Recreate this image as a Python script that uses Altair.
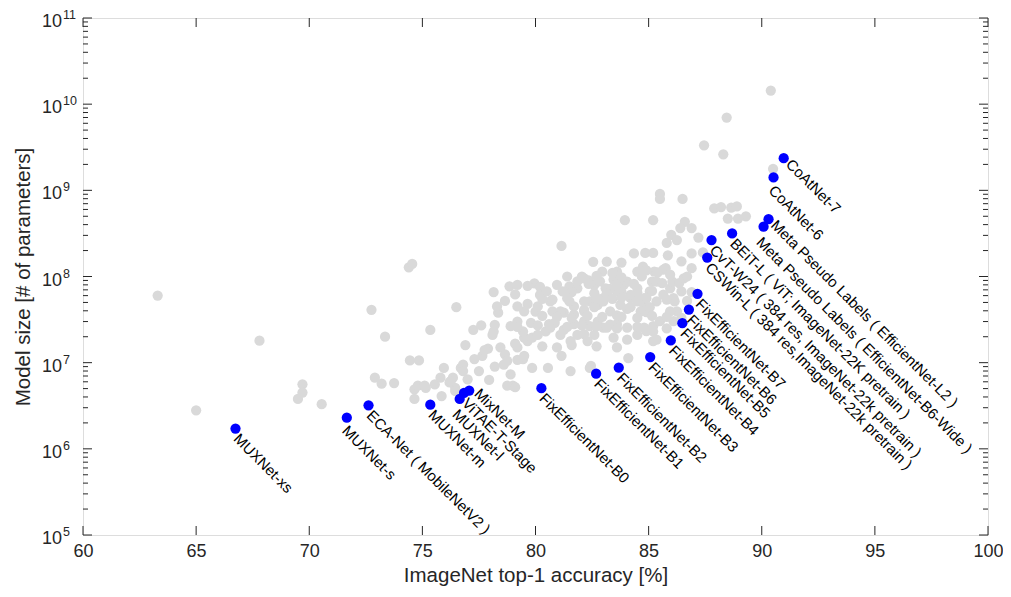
import altair as alt
import pandas as pd

# ---------------- data ----------------
gray_acc = [
    63.3, 65.0, 67.8, 69.7, 69.7, 69.5, 70.55, 72.75, 73.35, 72.9, 73.2, 73.75,
    74.4, 74.55, 74.45, 74.85, 75.35, 76.5, 74.65, 74.8, 74.65, 75.15, 75.55, 75.8,
    75.95, 76.2, 76.35, 76.45, 75.85, 76.7, 76.8, 77.0, 77.95, 77.65, 77.9, 78.1,
    78.45, 78.65, 78.9, 79.0, 79.1, 79.45, 79.85, 79.5, 76.25, 76.45, 75.1, 76.8,
    78.75, 79.1, 80.55, 81.55, 82.4,
    78.15, 78.85, 79.1, 79.95, 80.2, 80.95, 81.5, 81.85, 82.35, 82.6, 81.15, 82.55,
    77.25, 77.6, 78.15, 78.2, 78.65, 78.35, 78.9, 79.2, 79.45, 79.8, 80.0, 80.1,
    80.3, 80.2, 79.65, 79.5, 79.65, 79.85, 80.45, 80.6, 80.85, 81.25, 81.7, 81.85,
    82.4, 82.6, 80.75, 81.25, 81.7, 82.15, 81.5, 82.4, 82.75, 81.6, 81.15, 77.75,
    78.75, 79.2, 79.5, 80.1, 80.65, 81.1, 81.55, 81.1, 81.7, 80.65,
    82.15, 83.0, 82.75, 83.3, 83.6, 84.05, 84.2, 84.5, 84.8, 84.9, 85.35, 85.65,
    86.1, 82.15, 82.3, 83.0, 83.45, 84.05, 84.05, 84.8, 85.2, 85.35, 86.1, 86.25,
    82.45, 84.1, 84.9,
    81.55, 81.85, 82.15, 82.35, 82.6, 82.85, 83.1, 83.45, 83.6, 83.9, 84.2, 84.5,
    84.8, 85.05, 85.95, 86.15, 82.15, 82.6, 83.0, 83.3, 83.75, 84.2, 84.65, 85.05,
    85.5, 85.95, 82.15, 83.15, 83.6, 84.5, 85.2, 85.2,
    85.5, 85.5, 86.5, 83.95, 85.2, 87.9, 88.2, 88.65, 88.9, 89.3, 88.5, 88.95,
    86.6, 86.4, 86.9, 86.0, 86.25, 85.8, 87.2, 84.35, 84.85, 85.2, 85.85, 86.45,
    86.9, 87.4, 84.75, 85.75, 83.6, 84.5, 86.9, 85.15, 85.35, 85.6, 86.05, 86.35,
    84.05, 84.35, 83.3, 83.6, 85.65, 85.25, 85.95, 86.55,
    90.4, 88.45, 87.45, 88.3, 90.5,
    # denser core of the cloud
    82.95, 83.4, 84.9, 85.4, 81.4, 82.05, 82.7, 83.8, 84.7, 86.7,
    80.5, 81.2, 81.6, 83.15, 83.8, 84.5, 85.15, 86.45, 86.9,
    80.75, 81.4, 82.7, 83.4, 83.8, 84.9, 85.8, 86.7,
    80.3, 80.95, 81.6, 82.3, 82.95, 83.8, 84.5, 85.15, 85.8, 86.45,
    79.2, 80.1, 81.4, 82.05, 82.7, 83.6, 84.5, 85.8,
    79.2, 80.3, 80.95, 82.7, 83.6, 78.3, 79.2, 79.2, 79.65, 83.15, 83.8,
    76.9, 77.3, 78.2, 77.5, 78.6,
]
gray_params_m = [
    60, 2.8, 18, 5.6, 4.5, 3.8, 3.3, 41, 20, 6.7, 5.7, 5.8,
    128, 140, 10.6, 10.6, 24, 44, 4.9, 5.4, 3.8, 5.1, 5.6, 6.7,
    8.7, 5.9, 6.7, 5.1, 4.1, 8.7, 9.5, 6.4, 6.3, 12, 14.6, 21,
    15, 12.5, 7.3, 5.4, 16.6, 11, 8.7, 19.5, 6.1, 4.7, 5.4, 8.0,
    5.4, 5.2, 8.7, 8.0, 8.7,
    66, 77, 62, 83, 76, 80, 77, 73, 90, 80, 226, 148,
    24, 27, 23, 27.5, 52, 38, 26.5, 30, 23, 29, 39, 45,
    55, 61, 48, 39.5, 17.8, 19.5, 23, 28, 29, 24, 28, 21,
    26.5, 21, 39.5, 38, 45, 39.5, 51.5, 51.5, 47, 16, 12, 14,
    10.5, 10.8, 12, 21, 25.5, 21, 17.8, 39.5, 36, 51.5,
    41, 56, 30, 27.7, 35.5, 42, 56, 51.5, 47, 38.5, 51.5, 61.5,
    56, 21.5, 17.8, 25.5, 19.5, 25.5, 18.5, 25.5, 26.5, 18.5, 30.3, 39.5,
    9.2, 11.3, 23.2,
    73, 88, 95, 82, 64, 88, 73, 92, 67, 80, 61, 73,
    56, 67, 73, 51.5, 51.5, 44, 51.5, 39.5, 47, 44, 39.5, 44,
    30.3, 39.5, 30.3, 25.5, 28, 21, 23, 17.8,
    908, 794, 794, 451, 451, 616, 640, 630, 650, 500, 470, 470,
    431, 365, 365, 305, 265, 245, 283, 185, 188, 188, 176, 150,
    185, 190, 130, 125, 114, 114, 125, 87, 87, 84, 87, 84,
    87, 82, 72, 82, 120, 114, 105, 95,
    14400, 7000, 3330, 2620, 1780,
    114, 110, 118, 112, 100, 100, 102, 98, 100, 100,
    67, 67, 66, 64, 66, 65, 68, 67, 66,
    54, 56, 56, 55, 57, 56, 54, 52,
    35, 34, 33, 35, 34, 34, 33, 35, 34, 33,
    26, 27, 26, 27, 26.5, 25, 26, 25,
    15, 15.5, 15, 15.5, 15, 45, 45, 80, 78, 149, 145,
    16, 11, 9, 8, 9.5,
]

blue_names = [
    "MUXNet-xs", "MUXNet-s", "ECA-Net ( MobileNetV2 )", "MUXNet-m", "MUXNet-l",
    "ViTAE-T-Stage", "MixNet-M", "FixEfficientNet-B0", "FixEfficientNet-B1",
    "FixEfficientNet-B2", "FixEfficientNet-B3", "FixEfficientNet-B4",
    "FixEfficientNet-B5", "FixEfficientNet-B6", "FixEfficientNet-B7",
    "CSWin-L ( 384 res,ImageNet-22k pretrain )",
    "CvT-W24 ( 384 res, ImageNet-22k pretrain )",
    "BEiT-L ( ViT; ImageNet-22K pretrain )",
    "Meta Pseudo Labels ( EfficientNet-B6-Wide )",
    "Meta Pseudo Labels ( EfficientNet-L2 )",
    "CoAtNet-6", "CoAtNet-7",
]
blue_acc = [66.74, 71.66, 72.62, 75.35, 76.65, 76.84, 77.07, 80.26, 82.68, 83.68,
            85.07, 85.98, 86.49, 86.78, 87.16, 87.59, 87.78, 88.69, 90.08, 90.3,
            90.52, 90.97]
blue_params_m = [1.72, 2.3, 3.2, 3.25, 3.8, 4.45, 4.75, 5.06, 7.46, 8.75,
                 11.6, 18.1, 28.7, 41.3, 63, 166, 265, 316, 378, 463,
                 1413, 2361]

x_ticks = [60, 65, 70, 75, 80, 85, 90, 95, 100]
y_exponents = [5, 6, 7, 8, 9, 10, 11]
y_major = [10.0 ** e for e in y_exponents]
y_minor = [m * 10.0 ** e for e in y_exponents[:-1] for m in range(2, 10)]

# label groups that are set slightly off the common line (style only)
label_shift_groups = [
    (-5, ["MixNet-M"]),
    (-1, ["Meta Pseudo Labels ( EfficientNet-L2 )", "CoAtNet-7"]),
    (9, ["CoAtNet-6", "MUXNet-s"]),
    (12.5, ["MUXNet-l", "Meta Pseudo Labels ( EfficientNet-B6-Wide )"]),
]

# ---------------- chart ----------------
W, H = 905, 517
AXC = "#262626"
FONT = "Liberation Sans"

gray_df = pd.DataFrame({"acc": gray_acc, "params": [v * 1e6 for v in gray_params_m]})
blue_df = pd.DataFrame({"acc": blue_acc, "params": [v * 1e6 for v in blue_params_m],
                        "name": blue_names})

xs = alt.Scale(domain=[60, 100], nice=False, zero=False)
ys = alt.Scale(type="log", domain=[1e5, 1e11], nice=False)

xaxis = alt.Axis(values=x_ticks, ticks=False, tickSize=0, domain=False, grid=False,
                 labelFontSize=18, labelFont=FONT, labelColor=AXC, labelPadding=7,
                 labelFlush=False, labelOverlap=False,
                 title="ImageNet top-1 accuracy [%]", titleFont=FONT, titleFontSize=20.5,
                 titleFontWeight="normal", titleColor=AXC, titlePadding=5)
yaxis = alt.Axis(labels=False, ticks=False, tickSize=0, domain=False, grid=False,
                 title="Model size [# of parameters]", titleFont=FONT, titleFontSize=20.5,
                 titleFontWeight="normal", titleColor=AXC, titlePadding=50)

X = alt.X("acc:Q", scale=xs, axis=xaxis)
Y = alt.Y("params:Q", scale=ys, axis=yaxis)

gray = alt.Chart(gray_df).mark_circle(size=105, color="#d9d9d9", opacity=1).encode(x=X, y=Y)
blue = alt.Chart(blue_df).mark_circle(size=105, color="#0000ff", opacity=1).encode(x=X, y=Y)


def label_layer(dy, names=None, exclude=None):
    base = alt.Chart(blue_df)
    if names is not None:
        base = base.transform_filter(alt.FieldOneOfPredicate(field="name", oneOf=names))
    if exclude is not None:
        base = base.transform_filter(
            {"not": alt.FieldOneOfPredicate(field="name", oneOf=exclude).to_dict()})
    return base.mark_text(angle=45, align="left", baseline="middle", dx=6, dy=dy,
                          fontSize=15, font=FONT, color="#000000").encode(
        x=X, y=Y, text="name:N")


shifted = [n for _, names in label_shift_groups for n in names]
label_layers = [label_layer(5, exclude=shifted)] + [
    label_layer(dy, names=names) for dy, names in label_shift_groups]

major_df = pd.DataFrame({"params": y_major,
                         "base": ["10"] * len(y_major),
                         "exp": [str(e) for e in y_exponents]})
minor_df = pd.DataFrame({"params": y_minor})
xt_df = pd.DataFrame({"acc": x_ticks})

yt_left = alt.Chart(major_df).mark_rule(color=AXC, strokeWidth=1).encode(
    y=Y, x=alt.value(0), x2=alt.value(9))
yt_right = alt.Chart(major_df).mark_rule(color=AXC, strokeWidth=1).encode(
    y=Y, x=alt.value(W - 9), x2=alt.value(W))
ym_left = alt.Chart(minor_df).mark_rule(color=AXC, strokeWidth=1).encode(
    y=Y, x=alt.value(0), x2=alt.value(5))
ym_right = alt.Chart(minor_df).mark_rule(color=AXC, strokeWidth=1).encode(
    y=Y, x=alt.value(W - 5), x2=alt.value(W))
xt_bot = alt.Chart(xt_df).mark_rule(color=AXC, strokeWidth=1).encode(
    x=X, y=alt.value(H - 9), y2=alt.value(H))
xt_top = alt.Chart(xt_df).mark_rule(color=AXC, strokeWidth=1).encode(
    x=X, y=alt.value(0), y2=alt.value(9))

ylab_base = alt.Chart(major_df).mark_text(align="right", baseline="middle", dy=4,
                                          fontSize=18, font=FONT, color=AXC).encode(
    y=Y, x=alt.value(-21), text="base:N")
ylab_exp = alt.Chart(major_df).mark_text(align="left", baseline="middle", dy=-3,
                                         fontSize=12.5, font=FONT, color=AXC).encode(
    y=Y, x=alt.value(-20), text="exp:N")

chart = alt.layer(
    gray, blue, *label_layers, ym_left, ym_right, yt_left, yt_right, xt_bot, xt_top,
    ylab_base, ylab_exp
).properties(
    width=W, height=H,
    autosize=alt.AutoSizeParams(type="none"),
    padding={"left": 75, "top": 10, "right": 15, "bottom": 52},
).configure_view(stroke=AXC, strokeWidth=1).configure(background="white")

chart.save("out.html", embed_options={"renderer": "svg", "actions": False})
